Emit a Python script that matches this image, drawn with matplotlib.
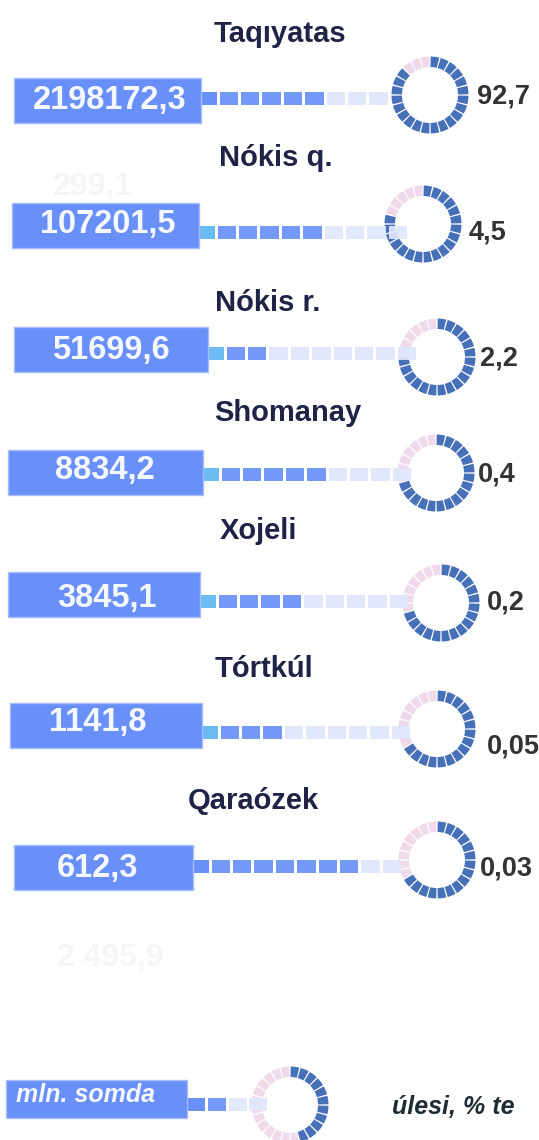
import matplotlib
matplotlib.use("Agg")
import matplotlib.pyplot as plt
from matplotlib.patches import Rectangle, Wedge

plt.rcParams['font.family'] = ['Liberation Sans', 'DejaVu Sans']

# ---- data ----
regions = ["Taqıyatas", "Nókis q.", "Nókis r.", "Shomanay", "Xojeli", "Tórtkúl", "Qaraózek"]
values = ["2198172,3", "107201,5", "51699,6", "8834,2", "3845,1", "1141,8", "612,3"]
shares = ["92,7", "4,5", "2,2", "0,4", "0,2", "0,05", "0,03"]
# dotted connector: lead square style, number of dark squares, number of pale squares
lead_cyan = [False, True, True, True, True, True, False]
n_dark = [5, 5, 2, 5, 4, 3, 7]
n_pale = [3, 4, 7, 4, 5, 6, 2]
# ring: filled segments out of 24
ring_filled = [21, 19, 18, 17, 17, 16, 16]
ghost_labels = ["299,1", "2 495,9"]
legend_unit = "mln. somda"
legend_share = "úlesi, % te"
legend_ring_filled = 11

# ---- layout ----
title_pos = [(280, 34), (276, 158), (268, 303), (288, 413), (258, 531), (264, 669), (253, 801)]
box_x = [(14, 201), (12, 199), (14, 208), (8, 203), (8, 200), (10, 202), (14, 193)]
box_y = [100, 225, 349, 472, 594, 725, 867]
val_x = [110, 108, 111, 105, 107, 98, 97]
val_y = [101, 224, 350, 470, 598, 722, 869]
sq_y = [98.5, 232, 353, 474, 601, 732, 866]
ring_c = [(430, 95), (423, 224), (437, 357), (436, 473), (441, 603), (437, 729), (437, 860)]
pct_pos = [(477, 96), (469, 232), (480, 358), (478, 474), (487, 603), (487, 747), (480, 868)]

C_BOX = "#6890f8"
C_BOX_EDGE = "#a6bdfa"
C_PALE = "#dfe7fb"
C_CYAN = "#6bbcf2"
C_RING = "#4670b8"
C_PINK = "#efd9ea"
C_TITLE = "#1f2346"
C_PCT = "#333333"

W, H = 539, 1140
fig = plt.figure(figsize=(W / 100, H / 100), dpi=100)
ax = fig.add_axes([0, 0, 1, 1])
ax.set_xlim(0, W)
ax.set_ylim(H, 0)
ax.axis('off')

BOX_H = 45
SQ_H = 13
SQ_W = 18.5
PITCH = 21.4
R_OUT, R_W = 38.5, 10.5
GAP = 2.2  # degrees between ring segments


def ring(cx, cy, filled, n=24):
    step = 360 / n
    for i in range(n):
        t1 = -90 + i * step + GAP / 2
        col = C_RING if i < filled else C_PINK
        ax.add_patch(Wedge((cx, cy), R_OUT, t1, t1 + step - GAP, width=R_W,
                           facecolor=col, edgecolor='none', zorder=2))


def connector(x0, yc, cyan, nd, npale):
    lead_col = C_CYAN if cyan else C_BOX
    ax.add_patch(Rectangle((x0, yc - SQ_H / 2), 16, SQ_H, facecolor=lead_col,
                           edgecolor='none', zorder=3))
    x = x0 + 18.5
    for i in range(nd + npale):
        col = C_BOX if i < nd else C_PALE
        ax.add_patch(Rectangle((x + i * PITCH, yc - SQ_H / 2), SQ_W, SQ_H,
                               facecolor=col, edgecolor='none', zorder=3, alpha=0.92))


def box(x0, x1, yc):
    ax.add_patch(Rectangle((x0, yc - BOX_H / 2), x1 - x0, BOX_H, facecolor=C_BOX,
                           edgecolor=C_BOX_EDGE, lw=1, zorder=4))


for i in range(len(regions)):
    ax.text(*title_pos[i], regions[i], ha='center', va='center', fontsize=21,
            fontweight='bold', color=C_TITLE)
    ring(*ring_c[i], ring_filled[i])
    connector(box_x[i][1], sq_y[i], lead_cyan[i], n_dark[i], n_pale[i])
    box(box_x[i][0], box_x[i][1], box_y[i])
    ax.text(val_x[i], val_y[i], values[i], ha='center', va='center', fontsize=23.5,
            fontweight='bold', color='#f6f8ff', zorder=5)
    ax.text(pct_pos[i][0], pct_pos[i][1], shares[i], ha='left', va='center',
            fontsize=19.5, fontweight='bold', color=C_PCT)

# faint ghost labels
ax.text(93, 187, ghost_labels[0], ha='center', va='center', fontsize=23,
        fontweight='bold', color='#f5f5f5', zorder=1)
ax.text(110, 958, ghost_labels[1], ha='center', va='center', fontsize=23,
        fontweight='bold', color='#f5f5f5', zorder=1)

# legend
ring(290, 1105, legend_ring_filled)
lx1 = 187
ax.add_patch(Rectangle((lx1, 1104.5 - SQ_H / 2), 18, SQ_H, facecolor=C_BOX, edgecolor='none', zorder=3))
for i, col in enumerate([C_BOX, C_PALE, C_PALE]):
    ax.add_patch(Rectangle((lx1 + 21 + i * 20.5, 1104.5 - SQ_H / 2), 18, SQ_H,
                           facecolor=col, edgecolor='none', zorder=3, alpha=0.92))
ax.add_patch(Rectangle((6, 1080), lx1 - 6, 38, facecolor=C_BOX, edgecolor=C_BOX_EDGE,
                       lw=1, zorder=4))
ax.text(16, 1095, legend_unit, ha='left', va='center', fontsize=18, fontweight='bold',
        fontstyle='italic', color='#f6f8ff', zorder=5)
ax.text(392, 1107, legend_share, ha='left', va='center', fontsize=18, fontweight='bold',
        fontstyle='italic', color='#1e2d35')

fig.savefig("out.png", dpi=100, facecolor='white')
